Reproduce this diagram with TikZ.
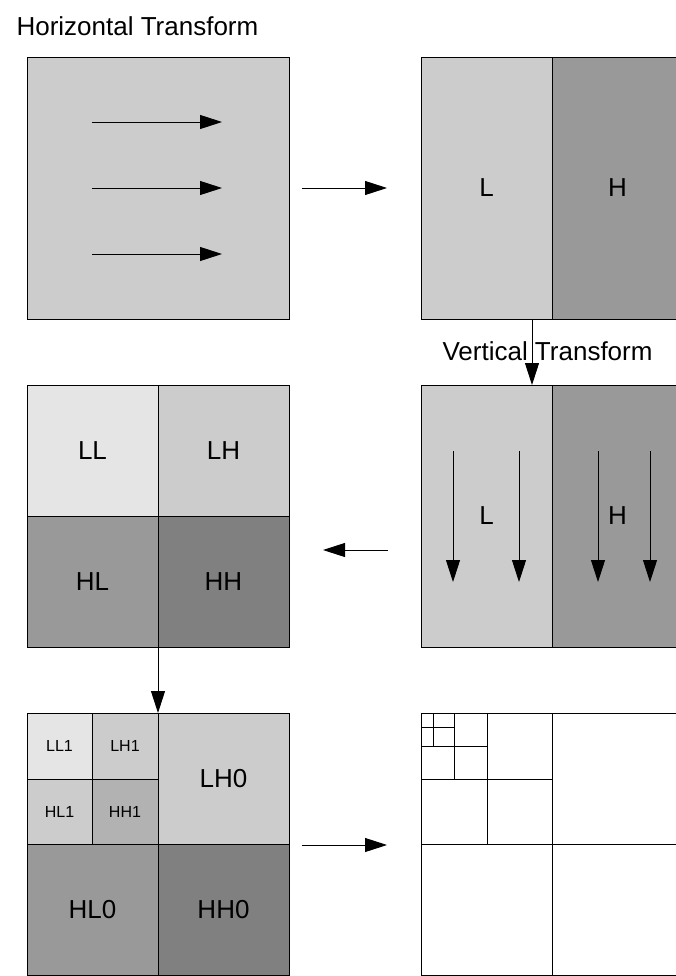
\documentclass[tikz,border=0pt]{standalone}
\usepackage{fontspec}
\setmainfont{Liberation Sans}
\usetikzlibrary{calc, positioning}
\usetikzlibrary{arrows.meta}

\definecolor{bandA}{gray}{0.9}
\definecolor{bandB}{gray}{0.8}
\definecolor{bandC}{gray}{0.7}
\definecolor{bandD}{gray}{0.6}
\definecolor{bandE}{gray}{0.5}

\tikzset{
  panel/.style={draw=black, line width=0.9pt},
  flow/.style={line width=0.9pt, -{Triangle[length=22pt,width=14pt]}},
  big/.style={font=\fontsize{26}{30}\selectfont},
  small/.style={font=\fontsize{16}{19}\selectfont},
}

\begin{document}
\begin{tikzpicture}[x=1pt, y=-1pt]
\def\sw{262}
\def\hw{131}
\def\cx{27}
\def\dx{421}
\def\ra{57}
\def\rb{385}
\def\rc{713}

\useasboundingbox (0,0) rectangle (676,976);
\clip (0,0) rectangle (676,976);

\node[big, anchor=base west] (htitle) at (13,36) {Horizontal Transform};

% input square with row arrows
\coordinate (A1) at (\cx,\ra);
\coordinate (A2) at (\cx+\sw,\ra+\sw);
\draw[panel, fill=bandB] (A1) rectangle (A2);
\foreach \yy [count=\i] in {122,188,254} {
  \coordinate (Row\i a) at (92,\yy);
  \coordinate (Row\i b) at (222,\yy);
  \draw[flow] (Row\i a) -- (Row\i b);
}

% after the horizontal pass
\coordinate (B1) at (\dx,\ra);
\coordinate (B2) at (\dx+\hw,\ra+\sw);
\coordinate (B3) at (\dx+\sw,\ra+\sw);
\draw[panel, fill=bandB] (B1) rectangle (B2);
\draw[panel, fill=bandD] (\dx+\hw,\ra) rectangle (B3);
\node[big] (BL) at ($(B1)!0.5!(B2)$) {L};
\node[big] (BH) at (\dx+\hw+65.5,\ra+\hw) {H};

\coordinate (Go1) at (302,188);
\coordinate (Go2) at (387,188);
\draw[flow] (Go1) -- (Go2);

% vertical pass
\node[big, anchor=base west] (vtitle) at (439,360) {Vertical Transform};
\coordinate (V1) at (532,\ra+\sw);
\coordinate (V2) at (532,\rb);
\draw[flow] (V1) -- (V2);

\coordinate (C1) at (\dx,\rb);
\coordinate (C2) at (\dx+\hw,\rb+\sw);
\coordinate (C3) at (\dx+\sw,\rb+\sw);
\draw[panel, fill=bandB] (C1) rectangle (C2);
\draw[panel, fill=bandD] (\dx+\hw,\rb) rectangle (C3);
\node[big] (CL) at ($(C1)!0.5!(C2)$) {L};
\node[big] (CH) at (\dx+\hw+65.5,\rb+\hw) {H};
\foreach \xx [count=\i] in {453,519,598,650} {
  \coordinate (Col\i a) at (\xx,451);
  \coordinate (Col\i b) at (\xx,582);
  \draw[flow] (Col\i a) -- (Col\i b);
}

\coordinate (Back1) at (388,550);
\coordinate (Back2) at (323,550);
\draw[flow] (Back1) -- (Back2);

% one level of subbands
\draw[panel, fill=bandA] (\cx,\rb) rectangle (\cx+\hw,\rb+\hw);
\draw[panel, fill=bandB] (\cx+\hw,\rb) rectangle (\cx+\sw,\rb+\hw);
\draw[panel, fill=bandD] (\cx,\rb+\hw) rectangle (\cx+\hw,\rb+\sw);
\draw[panel, fill=bandE] (\cx+\hw,\rb+\hw) rectangle (\cx+\sw,\rb+\sw);
\node[big] (LL) at (\cx+65.5,\rb+65.5) {LL};
\node[big] (LH) at (\cx+196.5,\rb+65.5) {LH};
\node[big] (HL) at (\cx+65.5,\rb+196.5) {HL};
\node[big] (HH) at (\cx+196.5,\rb+196.5) {HH};

\coordinate (D1) at (\cx+\hw,\rb+\sw);
\coordinate (D2) at (\cx+\hw,\rc);
\draw[flow] (D1) -- (D2);

% two levels
\draw[panel, fill=bandA] (\cx,\rc) rectangle (92,779);
\draw[panel, fill=bandB] (92,\rc) rectangle (\cx+\hw,779);
\draw[panel, fill=bandB] (\cx,779) rectangle (92,\rc+\hw);
\draw[panel, fill=bandC] (92,779) rectangle (\cx+\hw,\rc+\hw);
\draw[panel, fill=bandB] (\cx+\hw,\rc) rectangle (\cx+\sw,\rc+\hw);
\draw[panel, fill=bandD] (\cx,\rc+\hw) rectangle (\cx+\hw,\rc+\sw);
\draw[panel, fill=bandE] (\cx+\hw,\rc+\hw) rectangle (\cx+\sw,\rc+\sw);
\node[small] (LL1) at (59.5,746) {LL1};
\node[small] (LH1) at (125,746) {LH1};
\node[small] (HL1) at (59.5,812) {HL1};
\node[small] (HH1) at (125,812) {HH1};
\node[big] (LH0) at (\cx+196.5,\rc+65.5) {LH0};
\node[big] (HL0) at (\cx+65.5,\rc+196.5) {HL0};
\node[big] (HH0) at (\cx+196.5,\rc+196.5) {HH0};

\coordinate (Fw1) at (302,845);
\coordinate (Fw2) at (387,845);
\draw[flow] (Fw1) -- (Fw2);

% quadtree of the full decomposition
\draw[panel] (\dx,\rc) rectangle (\dx+\sw,\rc+\sw);
\draw[panel] (\dx+\hw,\rc) -- (\dx+\hw,\rc+\sw);
\draw[panel] (\dx,\rc+\hw) -- (\dx+\sw,\rc+\hw);
\draw[panel] (487,\rc) -- (487,\rc+\hw);
\draw[panel] (\dx,779) -- (\dx+\hw,779);
\draw[panel] (454,\rc) -- (454,779);
\draw[panel] (\dx,746) -- (487,746);
\draw[panel] (433,\rc) -- (433,746);
\draw[panel] (\dx,727) -- (454,727);
\end{tikzpicture}
\end{document}
